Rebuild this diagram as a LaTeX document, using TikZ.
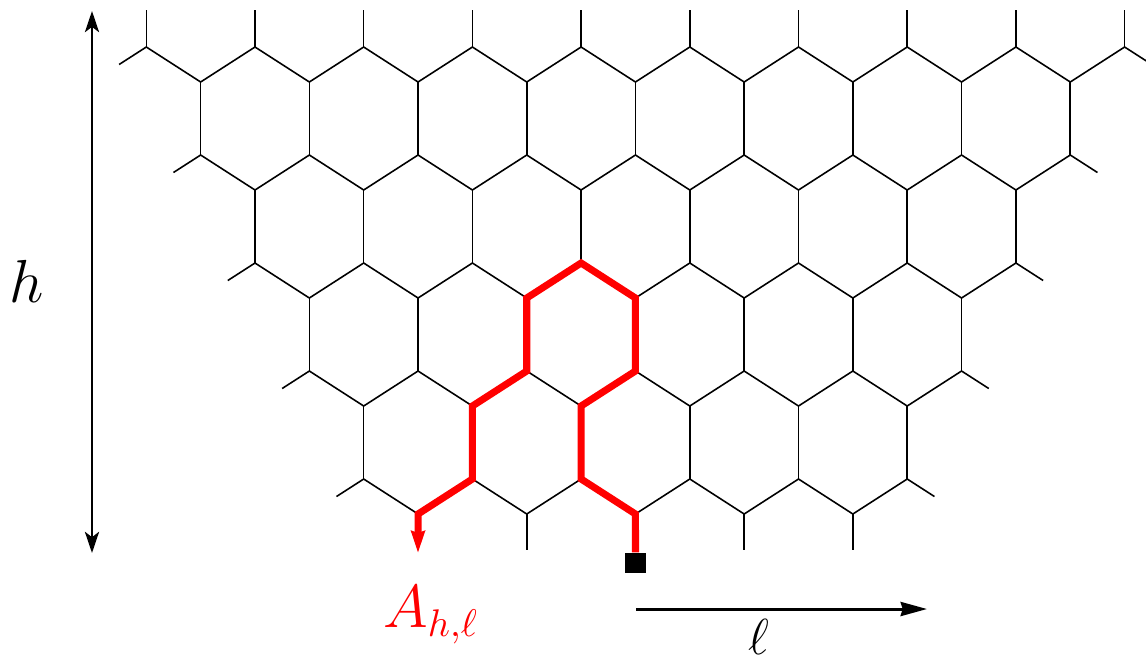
\documentclass[tikz,border=0pt]{standalone}
\usepackage{amsmath}
\usetikzlibrary{arrows.meta}

\begin{document}
\begin{tikzpicture}[x=0.01cm,y=-0.01cm,
    bond/.style={line width=0.45pt},
    walk/.style={red,line width=2pt},
    dim/.style={line width=0.85pt},
    lab/.style={font=\fontsize{16}{19}\selectfont}]
  \useasboundingbox (0,0) rectangle (1146,663);
  % lattice vertices: level n, column i
  \foreach \n in {0,...,4}{
    \pgfmathtruncatemacro\last{18-\n}
    \foreach \i in {\n,...,\last}{
      \pgfmathsetmacro\xx{146.3+54.35*\i}
      \pgfmathsetmacro\yy{47+108*\n+35*mod(\i-\n,2)}
      \coordinate (v\n-\i) at (\xx,\yy);
    }
  }
  % zigzag rows with half bonds at the ends
  \foreach \n in {0,...,4}{
    \pgfmathtruncatemacro\first{\n+1}
    \pgfmathtruncatemacro\last{18-\n}
    \foreach \i in {\first,...,\last}{
      \pgfmathtruncatemacro\j{\i-1}
      \draw[bond] (v\n-\j) -- (v\n-\i);
    }
    \draw[bond] (v\n-\n) -- ++(-27.2,17.5);
    \draw[bond] (v\n-\last) -- ++(27.2,17.5);
  }
  % vertical bonds
  \foreach \n in {0,...,3}{
    \pgfmathtruncatemacro\m{\n+1}
    \pgfmathtruncatemacro\b{\n+3}
    \pgfmathtruncatemacro\c{17-\n}
    \foreach \i in {\m,\b,...,\c}
      \draw[bond] (v\n-\i) -- (v\m-\i);
  }
  \foreach \i in {0,2,...,18}
    \draw[bond] (v0-\i) -- ++(0,-37);
  \foreach \i in {5,7,...,13}
    \draw[bond] (v4-\i) -- ++(0,36);

  % the walk
  \node[fill,minimum size=5.7pt,inner sep=0pt] (start) at (635.5,563) {};
  \coordinate (goal) at (418,553);
  \draw[walk,-{Stealth[length=6.2pt,width=3.8pt,inset=0.5pt]}]
    (start.north) -- (v4-9) -- (v4-8) -- (v3-8) -- (v3-9) -- (v2-9)
    -- (v2-8) -- (v2-7) -- (v3-7) -- (v3-6) -- (v4-6) -- (v4-5) -- (goal);
  \node[lab,red,anchor=base] (alab) at (431,627) {$A_{h,\ell}$};

  % sizes
  \coordinate (htop) at (92,11);
  \coordinate (hbot) at (92,553);
  \draw[dim,{Stealth[length=6pt,width=4pt,inset=1.5pt]}-{Stealth[length=6pt,width=4pt,inset=1.5pt]}]
    (htop) -- (hbot);
  \node[lab] (hlab) at (27,281) {$h$};
  \coordinate (lstart) at (636,609);
  \coordinate (lend) at (927,609);
  \draw[dim,-{Stealth[length=7.5pt,width=4pt,inset=0.6pt]}] (lstart) -- (lend);
  \node[anchor=base,inner sep=0pt,font=\fontsize{15}{18}\selectfont] (ell) at (759,654) {$\ell$};
\end{tikzpicture}
\end{document}
